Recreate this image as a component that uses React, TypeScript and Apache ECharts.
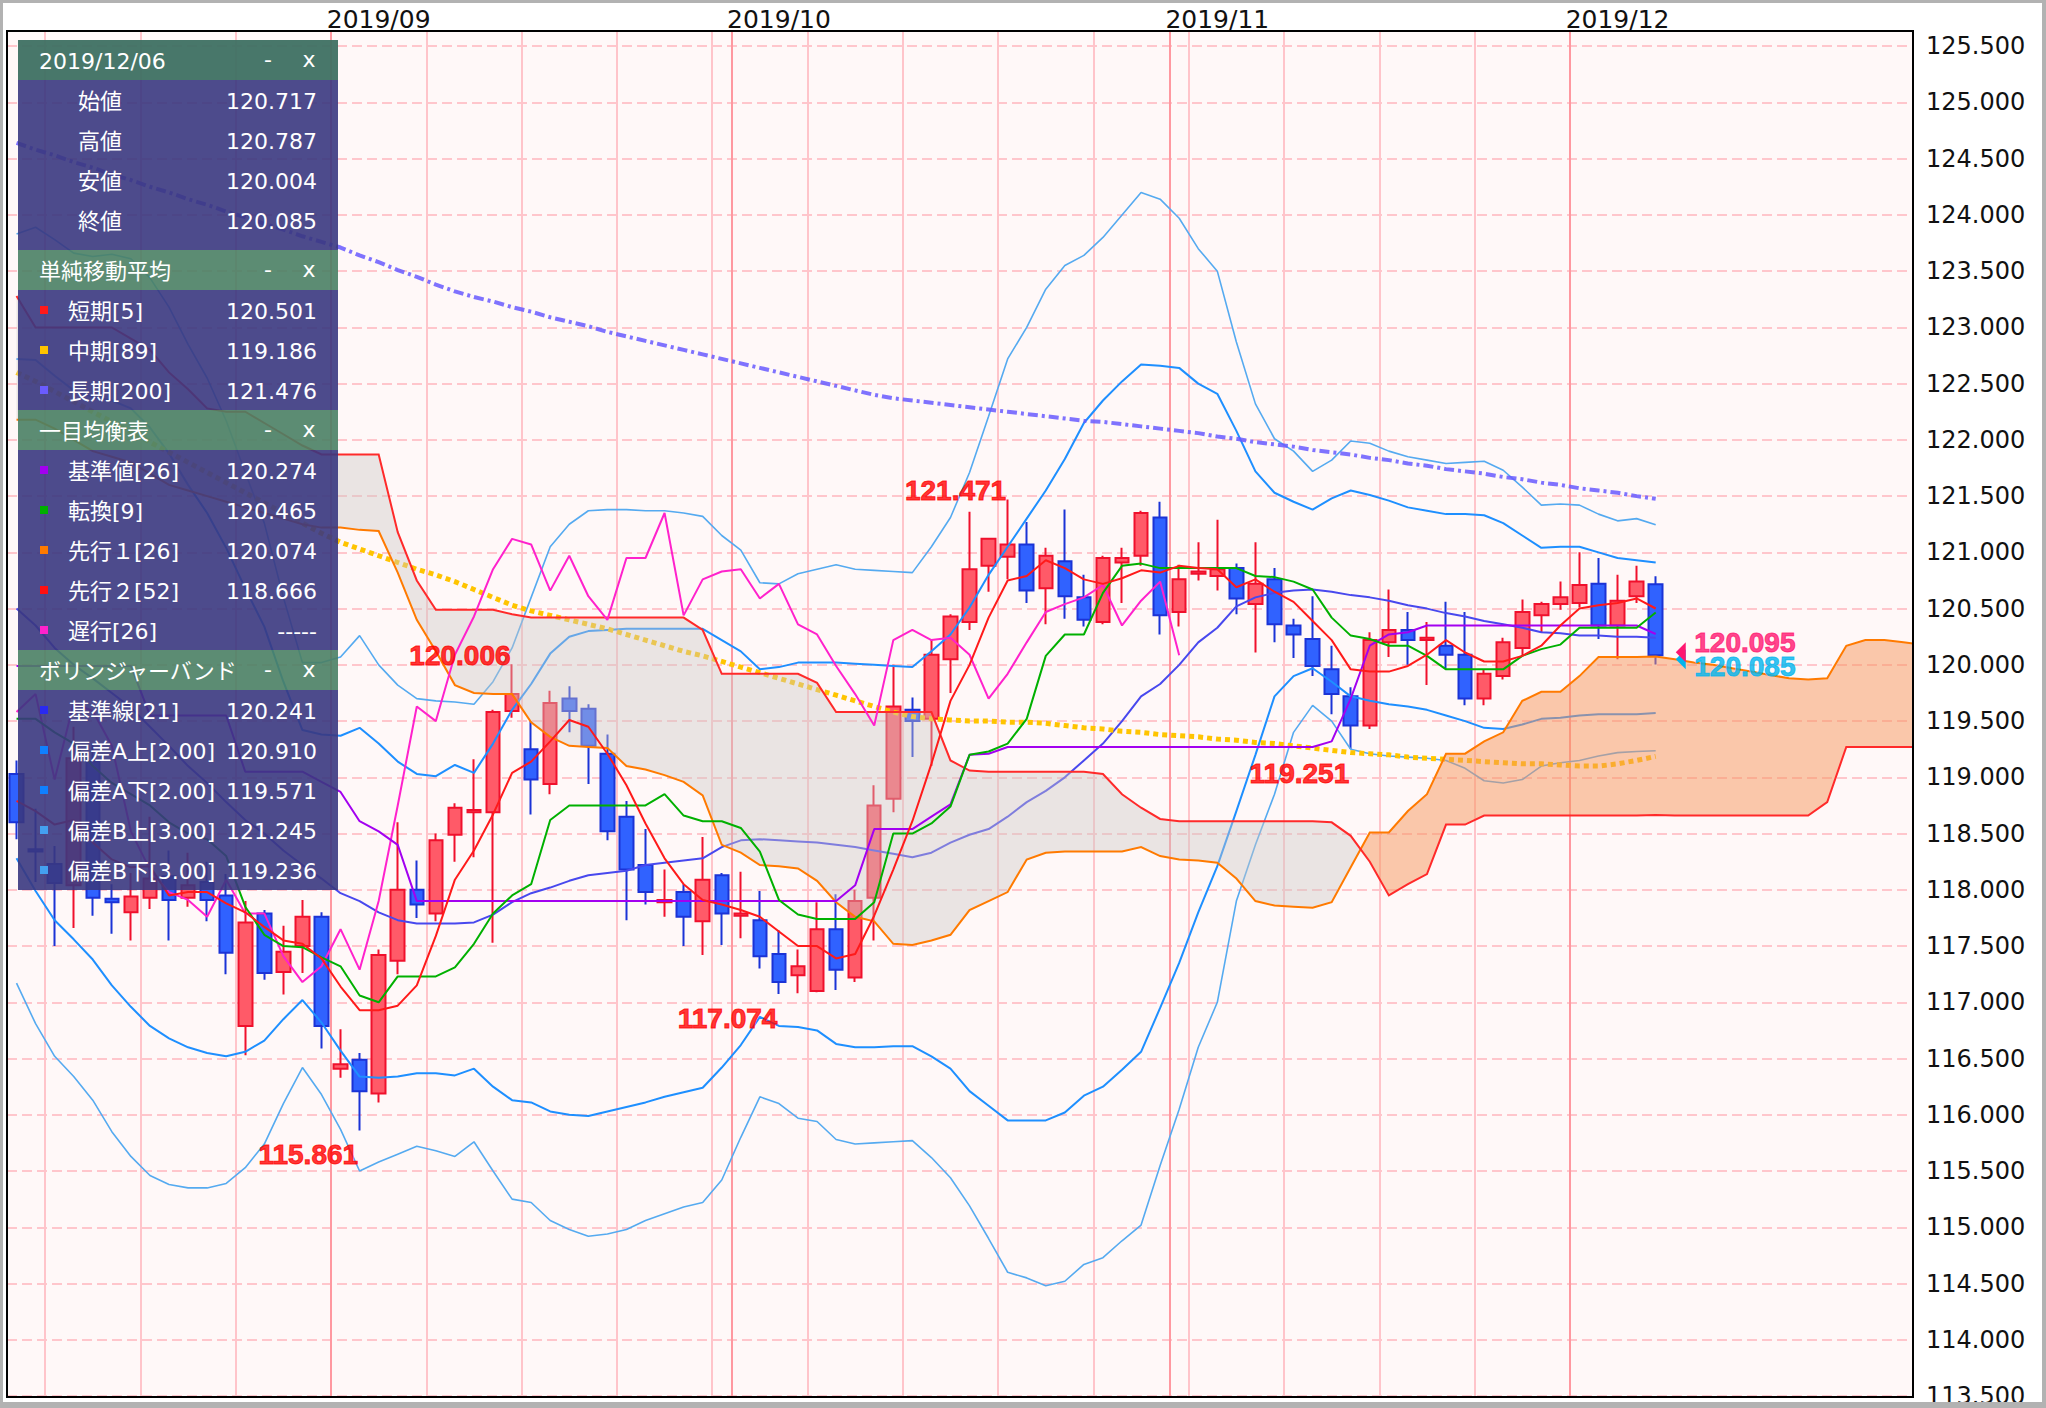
import React, { useEffect, useRef } from "react";
import * as echarts from "echarts";

// ---------------- DATA ----------------
const startDate = "2019-08-08";
const slotCount = 100;
const monthLabelIdx = [19, 40, 63, 84];

const opens = [119.03,118.36,118.23,118.04,119.14,117.92,117.80,117.93,118.12,117.93,
 118.07,117.95,116.79,117.79,117.27,117.50,117.76,116.41,116.49,116.19,
 117.37,118.00,117.79,118.49,118.69,118.69,119.59,119.25,118.94,119.70,
 119.61,119.21,118.65,118.22,117.89,117.98,117.72,118.13,117.77,117.73,
 117.43,117.24,117.10,117.65,117.22,117.93,118.81,119.60,119.52,120.05,
 120.38,120.88,120.96,121.07,120.68,120.92,120.60,120.38,120.91,120.97,
 121.31,120.47,120.81,120.79,120.86,120.54,120.76,120.35,120.23,119.96,
 119.72,119.46,120.20,120.31,120.22,120.17,120.09,119.70,119.90,120.15,
 120.44,120.54,120.55,120.72,120.35,120.61,120.717];
const closes = [118.60,118.34,118.06,119.17,117.93,117.89,117.94,118.10,117.91,118.04,
 117.91,117.44,117.71,117.26,117.45,117.76,116.79,116.45,116.21,117.42,
 118.00,117.87,118.44,118.73,118.71,119.58,119.74,118.98,119.66,119.59,
 119.28,118.52,118.18,117.98,117.91,117.76,118.09,117.79,117.79,117.41,
 117.18,117.32,117.65,117.29,117.90,118.75,119.63,119.50,120.09,120.43,
 120.85,121.12,121.07,120.66,120.97,120.61,120.40,120.95,120.95,121.35,
 120.44,120.76,120.83,120.85,120.59,120.72,120.36,120.27,119.99,119.74,
 119.46,120.22,120.31,120.22,120.24,120.09,119.70,119.92,120.20,120.47,
 120.54,120.60,120.71,120.35,120.57,120.74,120.085];
const lows = [118.45,118.07,117.50,117.66,117.77,117.61,117.55,117.83,117.55,117.85,
 117.72,117.25,116.53,117.20,117.07,117.26,116.59,116.33,115.861,116.11,
 117.25,117.75,117.72,118.25,118.29,117.53,119.53,118.67,118.85,119.40,
 118.94,118.44,117.73,117.87,117.76,117.50,117.42,117.51,117.57,117.30,
 117.074,117.08,117.09,117.11,117.18,117.55,118.69,119.18,119.10,119.75,
 120.31,120.65,120.76,120.55,120.36,120.41,120.34,120.36,120.55,120.88,
 120.27,120.34,120.75,120.66,120.45,120.11,120.20,120.06,119.90,119.56,
 119.251,119.43,120.07,120.00,119.82,119.96,119.64,119.64,119.87,120.08,
 120.29,120.49,120.51,120.23,120.05,120.55,120.004];
const highs = [119.15,118.72,118.39,119.45,119.30,118.05,118.15,118.65,118.35,118.33,
 118.25,118.14,117.90,117.82,117.68,117.91,117.80,116.76,116.55,117.47,
 118.60,118.26,118.50,118.77,119.16,119.60,120.006,119.50,119.77,119.81,
 119.65,119.38,118.79,118.54,118.18,118.05,118.47,118.15,118.16,117.99,
 117.64,117.47,117.89,117.96,118.00,118.93,120.00,119.71,120.23,120.45,
 121.36,121.13,121.471,121.27,121.04,121.38,120.80,120.97,121.04,121.37,
 121.45,120.89,121.09,121.29,120.90,121.09,120.86,120.41,120.61,120.17,
 119.80,120.29,120.67,120.47,120.38,120.56,120.47,119.96,120.24,120.58,
 120.56,120.74,121.00,120.95,120.80,120.88,120.787];

const sma5 = [118.79,118.70,118.58,118.62,118.42,118.27,118.20,118.21,117.95,117.98,
 117.98,117.88,117.80,117.67,117.55,117.52,117.39,117.14,116.93,116.93,
 116.97,117.15,117.59,118.09,118.35,118.67,119.04,119.14,119.32,119.51,
 119.45,119.21,118.93,118.59,118.28,118.05,117.91,117.87,117.82,117.76,
 117.63,117.50,117.50,117.39,117.43,117.77,118.18,118.61,119.12,119.68,
 120.00,120.42,120.75,120.79,120.93,120.86,120.76,120.72,120.77,120.84,
 120.82,120.88,120.86,120.85,120.69,120.76,120.65,120.56,120.39,120.22,
 119.96,119.94,119.94,119.99,120.09,120.22,120.11,120.03,120.03,120.08,
 120.17,120.35,120.50,120.53,120.55,120.59,120.501];
const sma89 = [122.60,122.52,122.43,122.34,122.25,122.16,122.07,121.98,121.89,121.80,
 121.71,121.62,121.53,121.44,121.35,121.26,121.17,121.09,121.03,120.97,
 120.91,120.85,120.80,120.74,120.67,120.60,120.53,120.48,120.44,120.40,
 120.36,120.32,120.27,120.22,120.17,120.12,120.08,120.03,119.98,119.93,
 119.88,119.83,119.78,119.73,119.68,119.63,119.58,119.54,119.52,119.51,
 119.50,119.50,119.49,119.49,119.48,119.46,119.44,119.43,119.41,119.40,
 119.38,119.37,119.36,119.34,119.33,119.31,119.30,119.28,119.26,119.24,
 119.22,119.21,119.20,119.18,119.17,119.16,119.15,119.14,119.13,119.12,
 119.12,119.11,119.10,119.10,119.12,119.15,119.186];
const sma200 = [124.64,124.58,124.53,124.47,124.42,124.36,124.31,124.25,124.20,124.14,
 124.09,124.03,123.98,123.92,123.87,123.81,123.76,123.71,123.64,123.58,
 123.51,123.45,123.38,123.32,123.27,123.23,123.18,123.14,123.09,123.05,
 123.01,122.96,122.92,122.88,122.84,122.80,122.76,122.72,122.68,122.64,
 122.60,122.56,122.52,122.48,122.44,122.40,122.37,122.35,122.33,122.31,
 122.29,122.27,122.25,122.23,122.21,122.19,122.17,122.16,122.14,122.12,
 122.10,122.08,122.06,122.03,122.01,121.98,121.96,121.94,121.91,121.89,
 121.87,121.84,121.82,121.79,121.77,121.74,121.72,121.70,121.67,121.65,
 121.62,121.60,121.57,121.55,121.53,121.50,121.476];

const kijun = [119.99,119.99,119.99,119.99,119.99,119.99,119.99,119.55,119.55,119.55,
 119.55,119.55,119.05,119.05,119.05,119.05,118.96,118.87,118.61,118.52,
 118.40,117.90,117.90,117.90,117.90,117.90,117.90,117.90,117.90,117.90,
 117.90,117.90,117.90,117.90,117.90,117.90,117.90,117.90,117.90,117.90,
 117.90,117.90,117.90,117.90,118.04,118.54,118.54,118.54,118.65,118.76,
 119.20,119.21,119.27,119.27,119.27,119.27,119.27,119.27,119.27,119.27,
 119.27,119.27,119.27,119.27,119.27,119.27,119.27,119.27,119.27,119.32,
 119.70,120.17,120.27,120.29,120.35,120.35,120.35,120.35,120.35,120.35,
 120.35,120.35,120.35,120.35,120.35,120.35,120.274];
const tenkan = [119.52,119.52,119.40,119.30,119.10,118.95,118.85,118.75,118.60,118.50,
 118.45,118.30,117.85,117.60,117.50,117.49,117.40,117.32,117.06,117.00,
 117.23,117.23,117.23,117.31,117.52,117.79,117.95,118.05,118.62,118.75,
 118.75,118.75,118.75,118.75,118.85,118.66,118.61,118.61,118.55,118.34,
 117.91,117.78,117.74,117.74,117.74,117.89,118.50,118.50,118.59,118.74,
 119.20,119.23,119.30,119.52,120.08,120.27,120.27,120.64,120.88,120.90,
 120.86,120.86,120.86,120.86,120.86,120.79,120.78,120.74,120.67,120.42,
 120.26,120.23,120.17,120.17,120.08,119.96,119.96,119.96,119.96,120.08,
 120.14,120.18,120.33,120.33,120.33,120.33,120.465];
const senkou1 = [122.18,122.18,122.10,122.00,121.90,121.85,121.80,121.70,121.60,121.55,
 121.50,121.45,121.40,121.35,121.30,121.25,121.22,121.22,121.20,121.19,
 120.82,120.40,120.12,119.82,119.75,119.74,119.74,119.49,119.36,119.28,
 119.27,119.26,119.10,119.07,119.02,118.96,118.84,118.40,118.33,118.22,
 118.21,118.19,118.08,117.89,117.76,117.72,117.52,117.51,117.55,117.60,
 117.82,117.90,117.98,118.27,118.33,118.34,118.34,118.34,118.34,118.38,
 118.30,118.27,118.26,118.24,118.10,117.90,117.86,117.85,117.84,117.89,
 118.20,118.51,118.51,118.70,118.85,119.21,119.21,119.32,119.40,119.68,
 119.76,119.76,119.90,120.07,120.07,120.07,120.074,120.05,120.02,120.00,
 119.97,119.94,119.91,119.88,119.87,119.88,120.17,120.22,120.22,120.20,120.18];
const senkou2 = [123.28,123.00,123.00,123.00,123.00,123.00,122.90,122.80,122.60,122.45,
 122.28,122.25,122.25,122.15,122.05,121.95,121.87,121.87,121.87,121.87,
 121.18,120.75,120.49,120.49,120.49,120.49,120.45,120.42,120.42,120.42,
 120.42,120.42,120.42,120.42,120.42,120.42,120.31,119.92,119.92,119.92,
 119.92,119.92,119.84,119.58,119.58,119.58,119.58,119.58,119.58,119.15,
 119.06,119.05,119.05,119.05,119.05,119.05,119.05,119.03,118.85,118.73,
 118.63,118.61,118.61,118.61,118.61,118.61,118.61,118.61,118.61,118.60,
 118.48,118.25,117.95,118.05,118.14,118.58,118.58,118.66,118.66,118.66,
 118.66,118.66,118.66,118.66,118.66,118.66,118.666,118.66,118.66,118.66,
 118.66,118.66,118.66,118.66,118.66,118.78,119.27,119.27,119.27,119.27,119.27];
const chikouShift = 25;

const bbMid = [120.50,120.35,120.15,120.00,119.88,119.75,119.62,119.45,119.28,119.10,
 118.95,118.78,118.62,118.50,118.35,118.22,118.10,117.97,117.90,117.80,
 117.73,117.70,117.70,117.70,117.71,117.78,117.89,117.97,118.02,118.08,
 118.13,118.15,118.17,118.22,118.24,118.26,118.28,118.38,118.44,118.45,
 118.44,118.43,118.42,118.40,118.38,118.35,118.32,118.29,118.33,118.42,
 118.49,118.54,118.65,118.78,118.88,119.00,119.15,119.30,119.50,119.72,
 119.83,120.00,120.20,120.33,120.52,120.60,120.64,120.66,120.67,120.65,
 120.62,120.60,120.57,120.53,120.50,120.46,120.43,120.39,120.36,120.33,
 120.29,120.28,120.26,120.26,120.25,120.25,120.241];
const bbUp2 = [122.72,122.71,122.57,122.44,122.38,122.35,122.28,122.11,121.88,121.60,
 121.35,121.04,120.68,120.34,119.85,119.42,119.38,119.37,119.44,119.30,
 119.14,119.03,119.01,119.11,119.04,119.30,119.60,119.83,120.10,120.25,
 120.30,120.31,120.32,120.32,120.32,120.32,120.32,120.22,120.12,119.96,
 119.98,120.02,120.02,120.02,120.01,120.00,119.99,119.98,120.12,120.27,
 120.51,120.80,121.05,121.30,121.55,121.83,122.15,122.35,122.52,122.67,
 122.66,122.64,122.50,122.41,122.08,121.72,121.53,121.45,121.38,121.48,
 121.55,121.51,121.46,121.40,121.37,121.34,121.34,121.33,121.26,121.15,
 121.04,121.05,121.05,121.00,120.95,120.93,120.910];
const bbUp3 = [123.83,123.89,123.78,123.66,123.63,123.65,123.61,123.44,123.18,122.85,
 122.55,122.17,121.71,121.26,120.60,120.02,120.02,120.07,120.26,120.00,
 119.82,119.70,119.68,119.67,119.65,119.85,120.15,120.60,121.05,121.25,
 121.37,121.38,121.38,121.37,121.37,121.35,121.32,121.15,121.02,120.73,
 120.72,120.81,120.85,120.89,120.85,120.84,120.83,120.82,121.05,121.31,
 121.71,122.21,122.72,123.00,123.34,123.55,123.64,123.80,124.00,124.20,
 124.14,123.97,123.70,123.50,122.87,122.32,122.01,121.90,121.72,121.82,
 121.99,121.97,121.90,121.85,121.82,121.79,121.80,121.81,121.73,121.58,
 121.42,121.43,121.42,121.34,121.28,121.30,121.245];
const bbDn2 = [118.28,117.99,117.73,117.56,117.38,117.15,116.96,116.79,116.68,116.60,
 116.55,116.52,116.56,116.66,116.85,117.02,116.82,116.57,116.34,116.33,
 116.34,116.37,116.37,116.35,116.41,116.25,116.13,116.11,116.03,116.00,
 115.99,116.03,116.07,116.11,116.16,116.20,116.24,116.42,116.62,116.87,
 116.79,116.78,116.75,116.63,116.60,116.60,116.61,116.61,116.52,116.41,
 116.21,116.08,115.95,115.95,115.95,116.02,116.17,116.25,116.40,116.56,
 116.95,117.35,117.80,118.21,118.70,119.20,119.72,119.90,119.97,119.85,
 119.72,119.68,119.65,119.63,119.60,119.55,119.50,119.44,119.43,119.47,
 119.52,119.53,119.55,119.56,119.56,119.56,119.571];
const bbDn3 = [117.17,116.81,116.52,116.34,116.13,115.85,115.63,115.46,115.38,115.35,
 115.35,115.39,115.53,115.74,116.10,116.42,116.18,115.87,115.50,115.58,
 115.65,115.72,115.68,115.63,115.76,115.50,115.25,115.22,115.06,114.98,
 114.92,114.94,114.98,115.06,115.12,115.18,115.22,115.42,115.80,116.16,
 116.10,115.97,115.94,115.78,115.74,115.75,115.76,115.77,115.62,115.44,
 115.19,114.90,114.60,114.55,114.48,114.52,114.67,114.73,114.88,115.02,
 115.55,116.05,116.60,117.00,117.90,118.40,118.85,119.40,119.64,119.50,
 119.25,119.21,119.19,119.18,119.17,119.15,119.08,118.97,118.95,118.98,
 119.10,119.13,119.15,119.19,119.22,119.23,119.236];

const extremes = [
  { i: 26, v: 120.006, kind: "high" },
  { i: 52, v: 121.471, kind: "high" },
  { i: 18, v: 115.861, kind: "low" },
  { i: 40, v: 117.074, kind: "low" },
  { i: 70, v: 119.251, kind: "low" },
];
const priceMarks = [
  { i: 87, v: 120.085, color: "#00b4ee", dy: 12, triDy: 4 },
  { i: 87, v: 120.095, color: "#ff1670", dy: -11, triDy: -2 },
];

const infoDate = "2019/12/06";
const ohlcLabels = ["始値", "高値", "安値", "終値"];
const ohlcValues = ["120.717", "120.787", "120.004", "120.085"];
const smaLabels = ["短期[5]", "中期[89]", "長期[200]"];
const smaValues = ["120.501", "119.186", "121.476"];
const ichiLabels = ["基準値[26]", "転換[9]", "先行１[26]", "先行２[52]", "遅行[26]"];
const ichiValues = ["120.274", "120.465", "120.074", "118.666", "-----"];
const bbLabels = ["基準線[21]", "偏差A上[2.00]", "偏差A下[2.00]", "偏差B上[3.00]", "偏差B下[3.00]"];
const bbValues = ["120.241", "120.910", "119.571", "121.245", "119.236"];

// ---------------- STYLE ----------------
const C = {
  sma5: "#ff1a1a",
  sma89: "#ffc400",
  sma200: "rgba(105,90,255,0.85)",
  kijun: "#a300f0",
  tenkan: "#00b000",
  senkou1: "#ff7a00",
  senkou2: "#ff2a2a",
  chikou: "#ff22cc",
  bbMid: "#4848ee",
  bb2: "#1e8fff",
  bb3: "#55aaf0",
};
const FONT = '"DejaVu Sans", "Noto Sans CJK JP", sans-serif';
const PLOT = { left: 7, top: 31, width: 1906, height: 1366 };

function makeDates(n: number) {
  const out: string[] = [];
  const d = new Date(startDate + "T00:00:00Z");
  while (out.length < n) {
    const wd = d.getUTCDay();
    if (wd !== 0 && wd !== 6) {
      const y = d.getUTCFullYear();
      const m = String(d.getUTCMonth() + 1).padStart(2, "0");
      const dd = String(d.getUTCDate()).padStart(2, "0");
      out.push(`${y}/${m}/${dd}`);
    }
    d.setUTCDate(d.getUTCDate() + 1);
  }
  return out;
}

function buildPanel() {
  const els: any[] = [];
  const X0 = 18, W = 320;
  const txt = (x: number, y: number, s: string, align: string) => ({
    type: "text", x, y, z: 101,
    style: { text: s, fill: "#ffffff", fontSize: 22, fontFamily: FONT, align, textAlign: align, verticalAlign: "middle", textVerticalAlign: "middle" },
  });
  const header = (y: number, s: string, color: string) => {
    els.push({ type: "rect", z: 100, shape: { x: X0, y, width: W, height: 40 }, style: { fill: color } });
    els.push(txt(39, y + 21, s, "left"));
    els.push(txt(268, y + 19, "-", "center"));
    els.push(txt(309, y + 19, "x", "center"));
  };
  const body = (y: number, h: number) => {
    els.push({ type: "rect", z: 100, shape: { x: X0, y, width: W, height: h }, style: { fill: "rgba(58,55,128,0.9)" } });
  };
  const row = (y: number, label: string, value: string, marker: string | null) => {
    if (marker) {
      els.push({ type: "rect", z: 101, shape: { x: 40, y: y - 4, width: 8, height: 8 }, style: { fill: marker } });
      els.push(txt(68, y + 1, label, "left"));
    } else {
      els.push(txt(78, y + 1, label, "left"));
    }
    els.push(txt(317, y + 1, value, "right"));
  };
  // plot border (black frame around the plotting area)
  els.push({ type: "rect", z: 90, silent: true, shape: { x: PLOT.left, y: PLOT.top, width: PLOT.width, height: PLOT.height }, style: { fill: "none", stroke: "#000", lineWidth: 2 } });
  header(40, infoDate, "rgba(62,112,98,0.95)");
  body(80, 170);
  ohlcLabels.forEach((l, k) => row(100 + k * 40, l, ohlcValues[k], null));
  header(250, "単純移動平均", "rgba(74,128,100,0.9)");
  body(290, 120);
  const smaCols = [C.sma5, "#ffc400", "#6a5cff"];
  smaLabels.forEach((l, k) => row(310 + k * 40, l, smaValues[k], smaCols[k]));
  header(410, "一目均衡表", "rgba(74,128,100,0.9)");
  body(450, 200);
  const ichiCols = [C.kijun, C.tenkan, C.senkou1, "#ff1010", C.chikou];
  ichiLabels.forEach((l, k) => row(470 + k * 40, l, ichiValues[k], ichiCols[k]));
  header(650, "ボリンジャーバンド", "rgba(74,128,100,0.9)");
  body(690, 200);
  const bbCols = ["#2a2af0", "#1080ff", "#1080ff", "#44a0f0", "#44a0f0"];
  bbLabels.forEach((l, k) => row(710 + k * 40, l, bbValues[k], bbCols[k]));
  // outer grey frame of the picture
  const frame = "#b2b2b2";
  els.push({ type: "rect", z: 200, shape: { x: 0, y: 0, width: 2046, height: 3 }, style: { fill: frame } });
  els.push({ type: "rect", z: 200, shape: { x: 0, y: 0, width: 3, height: 1408 }, style: { fill: frame } });
  els.push({ type: "rect", z: 200, shape: { x: 2042, y: 0, width: 4, height: 1408 }, style: { fill: frame } });
  els.push({ type: "rect", z: 200, shape: { x: 0, y: 1402, width: 2046, height: 6 }, style: { fill: frame } });
  return els;
}

function lineSeries(data: number[], color: string, width: number, z: number, type: any = "solid") {
  return {
    type: "line", data, z, silent: true, showSymbol: false, symbol: "none",
    lineStyle: { color, width, type, cap: "butt" }, animation: false,
  };
}

export default function App() {
  const ref = useRef<HTMLDivElement>(null);
  useEffect(() => {
    document.body.style.margin = "0";
    const chart = echarts.init(ref.current!, null, { renderer: "svg" });
    const dates = makeDates(slotCount);
    const mondays = new Set<number>();
    const monthStarts = new Set<number>();
    for (let i = 1; i < opens.length; i++) {
      const d = new Date(dates[i].replace(/\//g, "-") + "T00:00:00Z");
      if (d.getUTCDay() === 1) mondays.add(i);
      if (dates[i].slice(5, 7) !== dates[i - 1].slice(5, 7)) monthStarts.add(i);
    }

    const cloud = {
      type: "custom", z: 5, silent: true, clip: true,
      data: [[0, senkou1[0]]],
      renderItem: (params: any, api: any) => {
        const bw = api.size([1, 0])[0];
        const x0 = api.coord([0, senkou1[0]])[0];
        const X = (i: number) => x0 + i * bw;
        const Y = (v: number) => api.coord([0, v])[1];
        const orange = "rgba(246,150,92,0.5)";
        const grey = "rgba(205,200,198,0.42)";
        const children: any[] = [];
        let upper: number[][] = [[X(0), Y(senkou1[0])]];
        let lower: number[][] = [[X(0), Y(senkou2[0])]];
        let sign = senkou1[0] >= senkou2[0] ? 1 : -1;
        const flush = (s: number) => {
          children.push({ type: "polygon", shape: { points: upper.concat(lower.slice().reverse()) }, style: { fill: s > 0 ? orange : grey } });
        };
        for (let i = 1; i < senkou1.length; i++) {
          const a = senkou1[i], b = senkou2[i];
          const s = a >= b ? 1 : -1;
          if (s !== sign) {
            const d0 = senkou1[i - 1] - senkou2[i - 1];
            const d1 = a - b;
            const t = d0 / (d0 - d1);
            const xc = X(i - 1) + t * bw;
            const vc = senkou1[i - 1] + t * (a - senkou1[i - 1]);
            upper.push([xc, Y(vc)]);
            lower.push([xc, Y(vc)]);
            flush(sign);
            upper = [[xc, Y(vc)]];
            lower = [[xc, Y(vc)]];
            sign = s;
          }
          upper.push([X(i), Y(a)]);
          lower.push([X(i), Y(b)]);
        }
        flush(sign);
        children.push({ type: "polyline", shape: { points: senkou1.map((v, i) => [X(i), Y(v)]) }, style: { stroke: C.senkou1, lineWidth: 2, fill: null } });
        children.push({ type: "polyline", shape: { points: senkou2.map((v, i) => [X(i), Y(v)]) }, style: { stroke: C.senkou2, lineWidth: 2, fill: null } });
        return { type: "group", children };
      },
    };

    const boldLabel = (color: string) => ({
      color, fontSize: 28, fontWeight: "bold", fontFamily: "Liberation Sans",
      textBorderColor: color, textBorderWidth: 1,
    });

    const option: any = {
      animation: false,
      backgroundColor: "#ffffff",
      grid: { ...PLOT, show: true, backgroundColor: "#fff8f8", borderColor: "#000", borderWidth: 0 },
      xAxis: [
        {
          type: "category", data: dates, position: "top", boundaryGap: true,
          axisLine: { show: false }, axisTick: { show: false },
          axisLabel: {
            interval: (idx: number) => monthLabelIdx.includes(idx),
            formatter: (v: string) => v.slice(0, 7),
            fontSize: 25, fontFamily: "DejaVu Sans", color: "#111", margin: 12, verticalAlign: "middle",
          },
          splitLine: { show: true, interval: (idx: number) => mondays.has(idx), lineStyle: { color: "#ffc4ca", width: 2 } },
        },
        {
          type: "category", data: dates, position: "top", boundaryGap: true,
          axisLine: { show: false }, axisTick: { show: false }, axisLabel: { show: false },
          splitLine: { show: true, interval: (idx: number) => monthStarts.has(idx), lineStyle: { color: "#ff98a0", width: 2 } },
        },
      ],
      yAxis: {
        type: "value", position: "right", min: 113.5, max: 125.635, interval: 0.5, scale: true,
        axisLine: { show: false }, axisTick: { show: false },
        axisLabel: {
          margin: 13, fontSize: 24, fontFamily: "DejaVu Sans", color: "#111",
          formatter: (v: number) => (Math.abs(v * 2 - Math.round(v * 2)) < 1e-6 ? v.toFixed(3) : ""),
        },
        splitLine: { lineStyle: { color: "#ffc6cc", width: 2, type: [10, 5] } },
      },
      graphic: { elements: buildPanel() },
      series: [
        {
          type: "candlestick", z: 3, silent: true, barWidth: 14,
          data: opens.map((o, i) => [o, closes[i], lows[i], highs[i]]),
          itemStyle: { color: "#ff5a68", color0: "#3062ff", borderColor: "#f0102c", borderColor0: "#1b33d6", borderWidth: 2 },
        },
        lineSeries(bbUp3, C.bb3, 1.6, 4),
        lineSeries(bbDn3, C.bb3, 1.6, 4),
        lineSeries(bbUp2, C.bb2, 2, 4),
        lineSeries(bbDn2, C.bb2, 2, 4),
        lineSeries(bbMid, C.bbMid, 2, 4),
        lineSeries(sma89, C.sma89, 5, 4, [5, 4]),
        cloud,
        lineSeries(sma200, C.sma200, 4, 6, [10, 4, 3, 4]),
        lineSeries(closes.slice(chikouShift), C.chikou, 2, 6),
        lineSeries(kijun, C.kijun, 2, 6),
        lineSeries(tenkan, C.tenkan, 2, 6),
        lineSeries(sma5, C.sma5, 2, 6),
        {
          type: "scatter", z: 9, silent: true, symbolSize: 1, itemStyle: { color: "rgba(0,0,0,0)" },
          data: extremes.map((e) => ({
            value: [e.i, e.v],
            label: {
              show: true, formatter: e.v.toFixed(3), position: [0, 0],
              align: "right", verticalAlign: e.kind === "high" ? "bottom" : "top",
              offset: e.kind === "high" ? [-1, 6] : [-1, 11],
              ...boldLabel("#ff0000"),
            },
          })),
        },
        {
          type: "scatter", z: 9, silent: true,
          data: priceMarks.map((m) => ({
            value: [m.i, m.v], symbol: "triangle", symbolSize: [20, 10], symbolRotate: 90,
            symbolOffset: [6, m.triDy], itemStyle: { color: m.color, opacity: 1 },
          })),
        },
        {
          type: "scatter", z: 10, silent: true, symbolSize: 1, itemStyle: { color: "rgba(0,0,0,0)" },
          data: priceMarks.map((m) => ({
            value: [m.i, m.v],
            label: {
              show: true, formatter: m.v.toFixed(3), position: [0, 0], align: "left", verticalAlign: "middle",
              offset: [20, m.dy], ...boldLabel(m.color),
            },
          })),
        },
      ],
    };
    chart.setOption(option);
    return () => chart.dispose();
  }, []);
  return <div ref={ref} style={{ position: "fixed", left: 0, top: 0, width: 2046, height: 1408 }} />;
}
